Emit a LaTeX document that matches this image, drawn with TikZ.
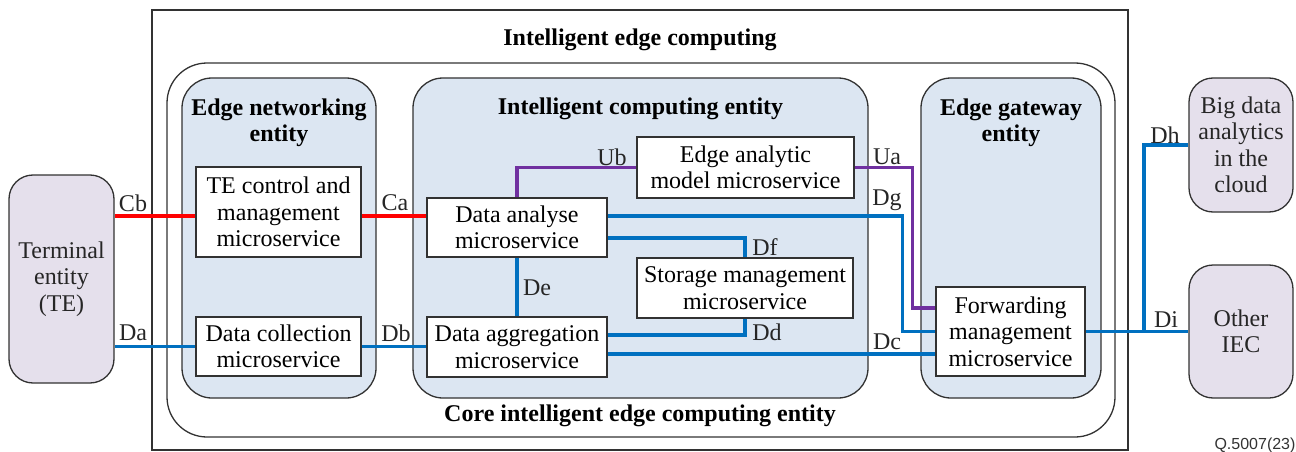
\documentclass[tikz,border=0pt]{standalone}
\usepackage{fontspec}
\setmainfont{Liberation Serif}
\newfontfamily\qsans{Liberation Sans}
\definecolor{entfill}{RGB}{220,230,242}
\definecolor{extfill}{RGB}{229,224,236}
\definecolor{lblue}{RGB}{0,112,192}
\definecolor{lred}{RGB}{255,0,0}
\definecolor{lpurple}{RGB}{112,48,160}
\definecolor{frame}{RGB}{50,50,50}
\begin{document}
\begin{tikzpicture}[x=1pt,y=-1pt,
  ttl/.style={font=\rmfamily\fontsize{24}{26.5}\selectfont\bfseries, align=center, inner sep=0pt},
  lbl/.style={font=\rmfamily\fontsize{24}{26.5}\selectfont, inner sep=0pt, text=black!85},
  msbox/.style={draw=frame, line width=1.3pt, fill=white, inner sep=0pt, align=center, font=\rmfamily\fontsize{24}{26.5}\selectfont},
  entbox/.style={draw=frame, line width=1.3pt, fill=entfill, rounded corners=30pt, inner sep=0pt},
  extbox/.style={draw=frame, line width=1.3pt, fill=extfill, rounded corners=24pt, inner sep=0pt, align=center, font=\rmfamily\fontsize{24}{26.5}\selectfont, text=black!85},
  bl/.style={draw=lblue, line width=3.5pt},
  rl/.style={draw=lred, line width=3.5pt},
  pl/.style={draw=lpurple, line width=3.5pt},
]
\useasboundingbox (0,0) rectangle (1296,452);
% outer frame
\node[draw=frame, line width=1.3pt, minimum width=976pt, minimum height=440pt, inner sep=0pt] (iec) at (640,230) {};
\node[ttl] (iectitle) at (640,40) {Intelligent edge computing};
% core
\node[draw=frame, line width=1.3pt, rounded corners=40pt, minimum width=948pt, minimum height=374pt, inner sep=0pt] (core) at (641,250) {};
\node[ttl] (coretitle) at (640,416) {Core intelligent edge computing entity};
% entities
\node[entbox, minimum width=194pt, minimum height=320pt] (ene) at (279,238) {};
\node[ttl] (enetitle) at (279,123) {Edge networking\\entity};
\node[entbox, minimum width=455pt, minimum height=320pt] (ice) at (640.5,238) {};
\node[ttl] (icetitle) at (640.5,109) {Intelligent computing entity};
\node[entbox, minimum width=180pt, minimum height=320pt] (ege) at (1011,238) {};
\node[ttl] (egetitle) at (1011,123) {Edge gateway\\entity};
% external
\node[extbox, minimum width=105pt, minimum height=208pt] (te) at (61.5,279) {Terminal\\entity\\(TE)};
\node[extbox, minimum width=104pt, minimum height=134pt] (bd) at (1241,145) {Big data\\analytics\\in the\\cloud};
\node[extbox, minimum width=104pt, minimum height=133pt] (oiec) at (1241,331.5) {Other\\IEC};
% microservices
\node[msbox, minimum width=165pt, minimum height=90pt] (tec) at (278.5,212) {TE control and\\management\\microservice};
\node[msbox, minimum width=165pt, minimum height=59pt] (dc) at (278.5,346.5) {Data collection\\microservice};
\node[msbox, minimum width=180pt, minimum height=59pt] (da) at (517,227.5) {Data analyse\\microservice};
\node[msbox, minimum width=180pt, minimum height=60pt] (dag) at (517,347) {Data aggregation\\microservice};
\node[msbox, minimum width=217pt, minimum height=61pt] (ea) at (745.5,167.5) {Edge analytic\\model microservice};
\node[msbox, minimum width=216pt, minimum height=60pt] (sm) at (745,288) {Storage management\\microservice};
\node[msbox, minimum width=149pt, minimum height=89pt] (fw) at (1010.5,331.5) {Forwarding\\management\\microservice};
% connectors
\draw[rl] ([yshift=-4pt]tec.west) -- ([yshift=-4pt]tec.west -| te.east);
\draw[rl] ([yshift=-4pt]tec.east) -- ([yshift=-4pt]tec.east -| da.west);
\draw[bl] (dc.west) -- (dc.west -| te.east);
\draw[bl] (dc.east) -- (dc.east -| dag.west);
\draw[pl] (da.north) |- (ea.west);
\draw[pl] (ea.east) -- ++(58,0) |- ([yshift=23.5pt]fw.west);
\draw[bl] ([yshift=11.5pt]da.east) -- ++(295,0) |- (fw.west);
\draw[bl] ([yshift=-10.5pt]da.east) -| (sm.north);
\draw[bl] (da.south) -- (dag.north);
\draw[bl] ([yshift=12pt]dag.east) -| (sm.south);
\draw[bl] ([yshift=-7pt]dag.east) -- ([yshift=-7pt]dag.east -| fw.west);
\draw[bl] (fw.east) -- (fw.east -| oiec.west);
\coordinate (j) at (1144,331.5);
\draw[bl] (j) |- (bd.west);
% labels
\node[lbl] (lCb) at (133,203) {Cb};
\node[lbl] (lDa) at (133,333) {Da};
\node[lbl] (lCa) at (395,203) {Ca};
\node[lbl] (lDb) at (396,333) {Db};
\node[lbl] (lUb) at (612,157) {Ub};
\node[lbl] (lUa) at (887,157) {Ua};
\node[lbl] (lDg) at (887,200) {Dg};
\node[lbl] (lDf) at (765,247) {Df};
\node[lbl] (lDe) at (537,288) {De};
\node[lbl] (lDd) at (767,332) {Dd};
\node[lbl] (lDc) at (887,342) {Dc};
\node[lbl] (lDh) at (1165,135) {Dh};
\node[lbl] (lDi) at (1166,320) {Di};
\node[font=\qsans\fontsize{16}{18}\selectfont, inner sep=0pt, text=black!80] (ref) at (1255,445) {Q.5007(23)};
\end{tikzpicture}
\end{document}
